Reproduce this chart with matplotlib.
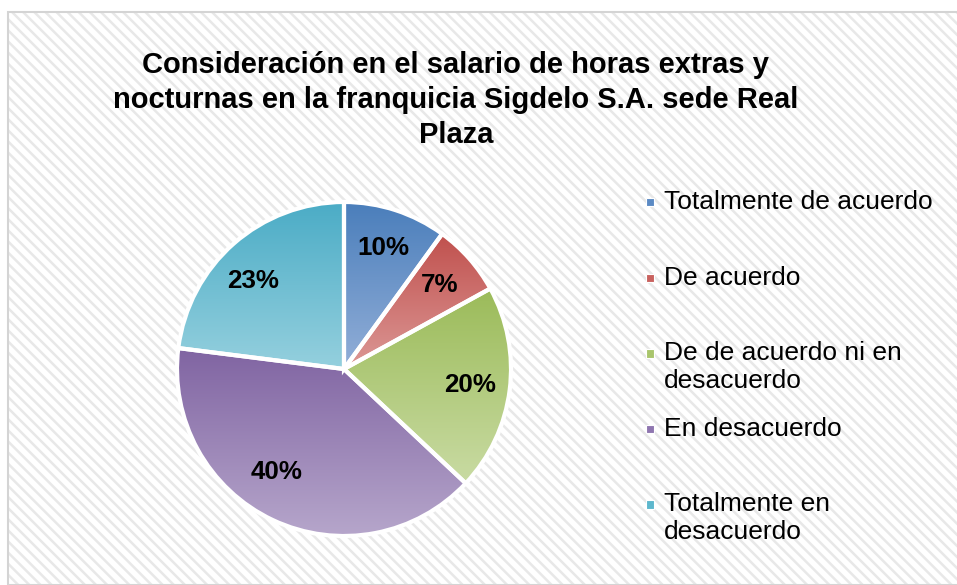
import numpy as np
import matplotlib
matplotlib.use("Agg")
import matplotlib.pyplot as plt
from matplotlib.colors import LinearSegmentedColormap
from matplotlib.patches import Rectangle, Patch

categorias = ['Totalmente de acuerdo', 'De acuerdo',
              'De de acuerdo ni en\ndesacuerdo', 'En desacuerdo',
              'Totalmente en\ndesacuerdo']
porcentajes = [10, 7, 20, 40, 23]
titulo = ('Consideración en el salario de horas extras y\n'
          'nocturnas en la franquicia Sigdelo S.A. sede Real\nPlaza')

# color oscuro arriba, claro abajo (degradado tipo Excel)
colores_oscuros = ['#4a7ebb', '#c0504d', '#9bbb59', '#8064a2', '#4bacc6']
colores_claros = ['#93afd8', '#dc9896', '#c9dba3', '#b6a6cb', '#95d0de']
colores_leyenda = ['#5b8ac4', '#c9625f', '#a9c56c', '#8f76b0', '#5db7cd']
# Excel no deja las etiquetas justo en la bisectriz de cada porcion
ajuste_angulo = [0, 0, 0, -8, 4.6]
distancia_pct = [0.76, 0.76, 0.76, 0.74, 0.76]

plt.rcParams['font.family'] = ['Liberation Sans', 'DejaVu Sans']
plt.rcParams['hatch.linewidth'] = 1.8

fig = plt.figure(figsize=(9.57, 5.85), dpi=100)
W, H = 957, 585

# fondo rayado con marco gris
fondo = Rectangle((8 / W, 0), 1, 1 - 12 / H, transform=fig.transFigure,
                  facecolor='white', edgecolor='#e8e8e8', linewidth=0,
                  hatch='\\\\\\', zorder=-2)
fig.patches.append(fondo)
marco = Rectangle((8 / W, 0), 1, 1 - 12 / H, transform=fig.transFigure,
                  facecolor='none', edgecolor='#d4d4d4', linewidth=1.5,
                  zorder=-1)
fig.patches.append(marco)

fig.text(456 / W, 1 - 100 / H, titulo, ha='center', va='center',
         fontsize=21, fontweight='bold', linespacing=1.31,
         multialignment='center')

cx, cy, r = 344, 369, 167
ax = fig.add_axes([(cx - r) / W, (H - cy - r) / H, 2 * r / W, 2 * r / H])
res = ax.pie(porcentajes, startangle=90, counterclock=False,
             autopct='%1.0f%%', pctdistance=0.76,
             wedgeprops=dict(edgecolor='white', linewidth=3),
             textprops=dict(fontsize=18.7, fontweight='bold',
                            color='black'))
wedges, textos = res[0], res[-1]

grad = np.linspace(0, 1, 256).reshape(-1, 1)
for w, c1, c2 in zip(wedges, colores_oscuros, colores_claros):
    ext = w.get_path().get_extents()
    cmap = LinearSegmentedColormap.from_list('g', [c1, c2])
    im = ax.imshow(grad, cmap=cmap, extent=[ext.x0, ext.x1, ext.y0, ext.y1],
                   origin='upper', aspect='auto', zorder=1)
    im.set_clip_path(w)
    w.set_facecolor('none')
    w.set_zorder(2)

for w, t, da, d in zip(wedges, textos, ajuste_angulo, distancia_pct):
    ang = np.deg2rad((w.theta1 + w.theta2) / 2 + da)
    t.set_position((d * np.cos(ang), d * np.sin(ang)))
    t.set_zorder(3)

ax.set_xlim(-1, 1)
ax.set_ylim(-1, 1)
ax.set_aspect('auto')
ax.axis('off')


# cuadrito de leyenda alineado con la primera linea del texto
class ManejadorCuadro:
    def legend_artist(self, legend, orig_handle, fontsize, handlebox):
        lado = 0.32 * fontsize
        y = handlebox.height / 2 - handlebox.ydescent - lado / 2 + 0.53 * fontsize
        p = Rectangle((-handlebox.xdescent, y), lado, lado,
                      facecolor=orig_handle.get_facecolor(),
                      edgecolor='white', linewidth=0.8,
                      transform=handlebox.get_transform())
        handlebox.add_artist(p)
        return p


etiquetas = [c if '\n' in c else c + '\n ' for c in categorias]
handles = [Patch(facecolor=c) for c in colores_leyenda]
fig.legend(handles, etiquetas, loc='upper left',
           bbox_to_anchor=(646 / W, 1 - 190 / H), frameon=False,
           fontsize=19, handlelength=0.33, handleheight=0.7,
           handletextpad=0.35, labelspacing=0.9, borderpad=0,
           borderaxespad=0, handler_map={Patch: ManejadorCuadro()})

fig.savefig('out.png', dpi=100)
